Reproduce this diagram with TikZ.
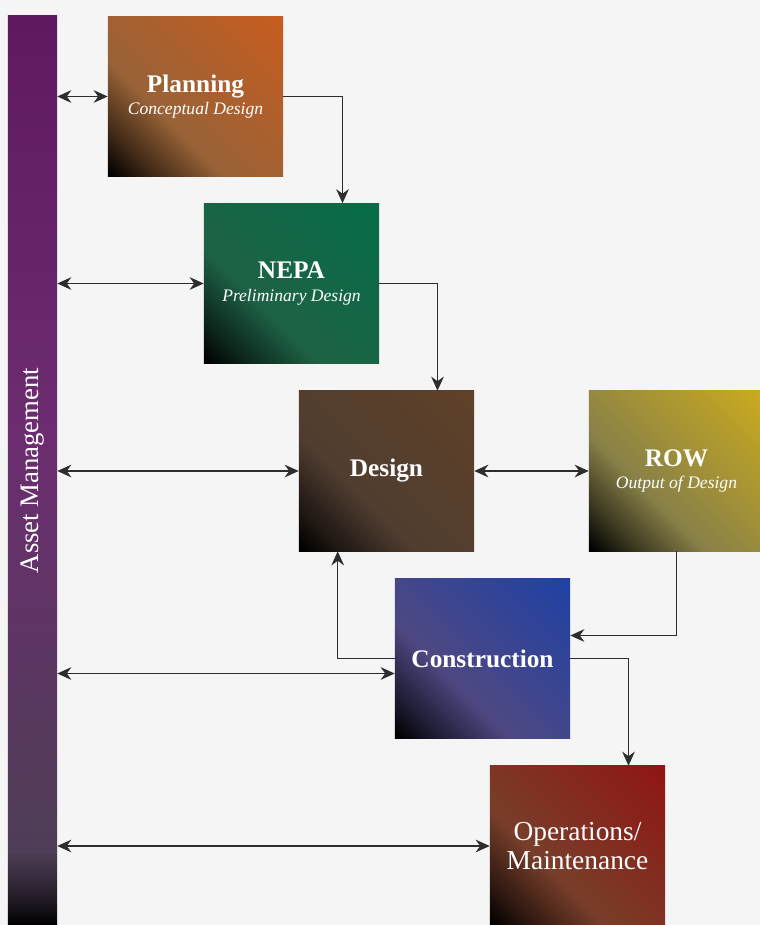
\documentclass[tikz,border=0pt]{standalone}
\usepackage{fontspec}
\setmainfont{Liberation Serif}
\usetikzlibrary{arrows.meta,positioning,calc}
\definecolor{bggray}{RGB}{245,245,245}
\definecolor{linegray}{RGB}{45,45,45}
\definecolor{planhi}{RGB}{200,92,30}
\definecolor{planlo}{RGB}{152,98,55}
\definecolor{nepahi}{RGB}{5,110,70}
\definecolor{nepalo}{RGB}{30,98,70}
\definecolor{deshi}{RGB}{95,65,40}
\definecolor{deslo}{RGB}{80,61,48}
\definecolor{rowhi}{RGB}{205,172,30}
\definecolor{rowlo}{RGB}{135,128,72}
\definecolor{conhi}{RGB}{30,65,165}
\definecolor{conlo}{RGB}{78,72,130}
\definecolor{opshi}{RGB}{145,20,20}
\definecolor{opslo}{RGB}{120,62,42}
\definecolor{bartop}{RGB}{95,25,95}
\definecolor{barmid}{RGB}{108,45,112}
\definecolor{barlow}{RGB}{78,62,86}
\colorlet{cornlo}{black}
\colorlet{cornhi}{black}
\pgfdeclarehorizontalshading[cornlo,cornhi]{cornerramp}{100bp}{color(0bp)=(black); color(15bp)=(black); color(24bp)=(cornlo!40!black); color(39bp)=(cornlo); color(86bp)=(cornhi); color(100bp)=(cornhi)}
\pgfdeclareverticalshading{barramp}{100bp}{color(0bp)=(black); color(25bp)=(black); color(26.5bp)=(barlow!45!black); color(29bp)=(barlow); color(52bp)=(barmid); color(75bp)=(bartop); color(100bp)=(bartop)}
\newcommand{\stagesub}[1]{{\fontsize{12.5}{14}\selectfont\mdseries\itshape #1}}

\begin{document}
\begin{tikzpicture}[x=0.025cm, y=-0.025cm,
    tint/.style 2 args={/utils/exec={\colorlet{cornlo}{#2}\colorlet{cornhi}{#1}}, shade, shading=cornerramp, shading angle=45},
    stage/.style={rectangle, minimum width=4.375cm, minimum height=4cm, inner sep=0pt, align=center, text=white, font=\fontsize{18}{16}\selectfont\bfseries},
    bar/.style={rectangle, minimum width=1.225cm, minimum height=22.725cm, inner sep=0pt, shade, shading=barramp},
    twoway/.style={draw=linegray, line width=1.1pt, {Stealth[length=10pt,width=9pt]}-{Stealth[length=10pt,width=9pt]}},
    oneway/.style={draw=linegray, line width=1.1pt, -{Stealth[length=10pt,width=9pt]}}]
        \fill[bggray] (0,0) rectangle (760,925);
        \useasboundingbox (0,0) rectangle (760,925);
        %nodes
        \node[bar] (asset) at (32.5, 470.5) {};
        \node[rotate=90, text=white, font=\fontsize{19}{22}\selectfont] (assetlabel) at (asset) {Asset Management};
        \node[stage, tint={planhi}{planlo}] (plan) at (195.5, 96.5) {Planning\\\stagesub{Conceptual Design}};
        \node[stage, tint={nepahi}{nepalo}] (nepa) at (291.5, 283.5) {NEPA\\\stagesub{Preliminary Design}};
        \node[stage, tint={deshi}{deslo}] (design) at (386.5, 471) {Design};
        \node[stage, tint={rowhi}{rowlo}] (row) at (676.5, 471) {ROW\\\stagesub{Output of Design}};
        \node[stage, tint={conhi}{conlo}] (constr) at (482.5, 658.5) {Construction};
        \node[stage, tint={opshi}{opslo}, font=\fontsize{19.5}{21}\selectfont] (ops) at (577.5, 846) {Operations/\\Maintenance};
        %edges
        \coordinate (cin) at ($(constr.west)+(0,15)$);
        \path [twoway] (asset.east |- plan.west) -- (plan.west);
        \path [twoway] (asset.east |- nepa.west) -- (nepa.west);
        \path [twoway] (asset.east |- design.west) -- (design.west);
        \path [twoway] (asset.east |- cin) -- (cin);
        \path [twoway] (asset.east |- ops.west) -- (ops.west);
        \path [twoway] (design.east) -- (row.west);
        \path [oneway] (plan.east) -| ($(nepa.north)+(51,0)$);
        \path [oneway] (nepa.east) -| ($(design.north)+(51,0)$);
        \path [oneway] (row.south) |- ($(constr.east)+(0,-23)$);
        \path [oneway] (constr.west) -| ($(design.south west)+(39,0)$);
        \path [oneway] (constr.east) -| ($(ops.north)+(51,0)$);
\end{tikzpicture}
\end{document}
